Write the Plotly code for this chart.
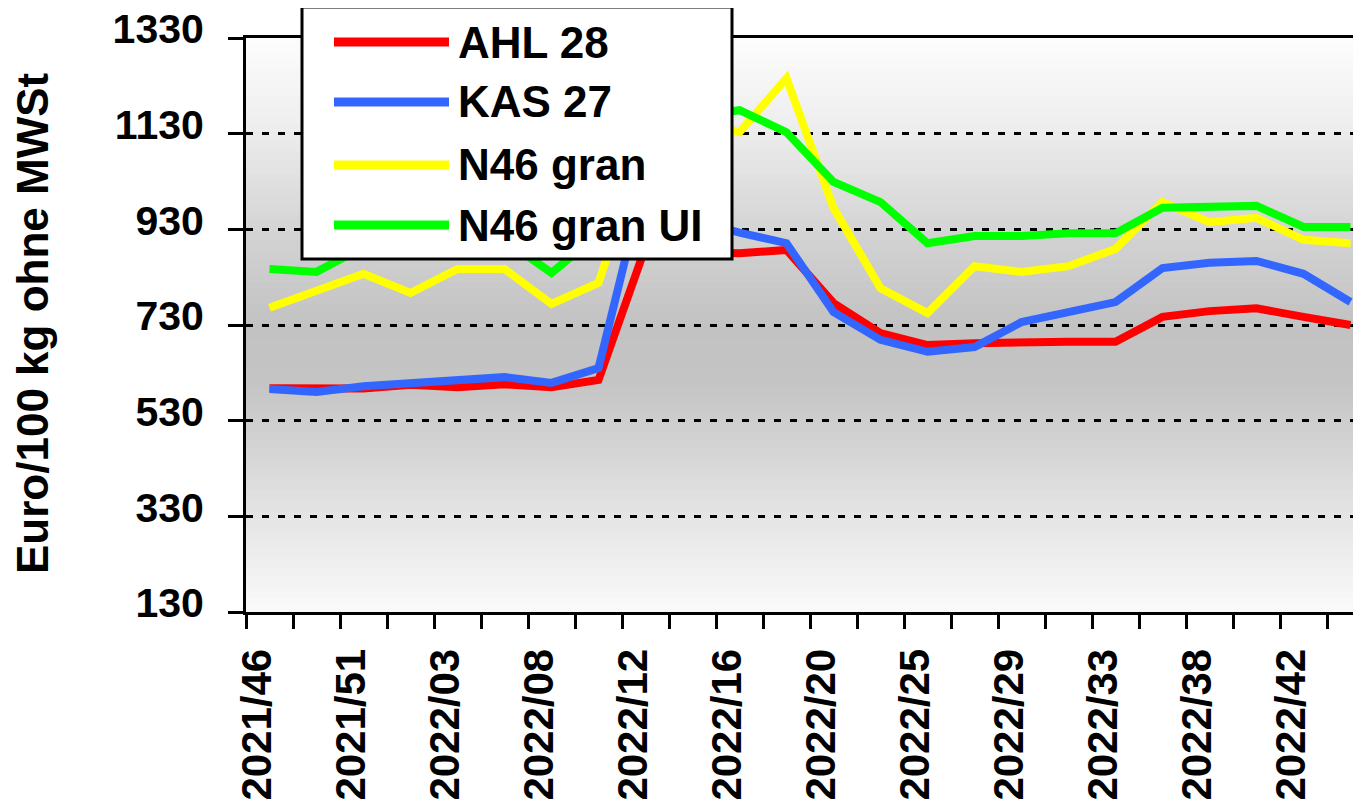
import plotly.graph_objects as go

# ---- data ----
weeks = ["2021/46", "2021/49", "2021/51", "2022/01", "2022/03", "2022/06",
         "2022/08", "2022/10", "2022/12", "2022/14", "2022/16", "2022/18",
         "2022/20", "2022/23", "2022/25", "2022/27", "2022/29", "2022/31",
         "2022/33", "2022/36", "2022/38", "2022/40", "2022/42", "2022/44"]
label_weeks = ["2021/46", "2021/51", "2022/03", "2022/08", "2022/12", "2022/16",
               "2022/20", "2022/25", "2022/29", "2022/33", "2022/38", "2022/42"]

ahl28 = [598, 596, 597, 605, 600, 606, 600, 615, 893, 882, 880, 887,
         776, 713, 688, 692, 695, 695, 695, 747, 759, 765, 747, 730]
kas27 = [596, 590, 602, 609, 615, 621, 609, 640, 1040, 950, 923, 901,
         757, 699, 674, 684, 736, 755, 778, 849, 860, 864, 837, 778]
n46 = [766, 801, 837, 797, 847, 847, 774, 818, 1112, 1160, 1133, 1246,
       975, 807, 755, 853, 841, 853, 889, 987, 945, 954, 908, 901]
n46ui = [847, 841, 893, 900, 905, 908, 839, 920, 1100, 1165, 1179, 1133,
         1029, 987, 901, 916, 916, 922, 922, 975, 979, 979, 935, 935]

series_names = ["AHL 28", "KAS 27", "N46 gran", "N46 gran UI"]
series_vals = [ahl28, kas27, n46, n46ui]
series_colors = ["#FF0000", "#3366FF", "#FFFF00", "#00FF00"]

y_ticks = [130, 330, 530, 730, 930, 1130, 1330]

# ---- geometry (pixels); page body has an 8px default margin ----
OFF = 8
W, H = 1361 - OFF, 812 - OFF
L, T, B = 246 - OFF, 38 - OFF, 200
PW = W - L
PH = H - T - B

def px_x(px):
    return (px - OFF - L) / PW

def px_y(py):
    return (H - B - (py - OFF)) / PH

FONT = "Liberation Sans, Arial, sans-serif"

fig = go.Figure()
x_idx = list(range(len(weeks)))
for name, vals, col in zip(series_names, series_vals, series_colors):
    fig.add_trace(go.Scatter(x=x_idx, y=vals, mode="lines", name=name,
                             line=dict(color=col, width=8),
                             customdata=weeks, hovertemplate="%{customdata}: %{y}<extra>" + name + "</extra>"))

# ---- background gradient (bands) ----
stops = [(0.0, 250), (0.2, 224), (0.4, 196), (0.5, 194), (0.65, 210), (0.85, 238), (1.0, 253)]

def grey(t):
    for (t0, c0), (t1, c1) in zip(stops[:-1], stops[1:]):
        if t0 <= t <= t1:
            return c0 + (c1 - c0) * (t - t0) / (t1 - t0)
    return stops[-1][1]

shapes = []
nb = 80
for i in range(nb):
    t0 = i / nb
    t1 = (i + 1) / nb
    g = int(round(grey((t0 + t1) / 2)))
    shapes.append(dict(type="rect", xref="paper", yref="paper", x0=0, x1=1,
                       y0=t0, y1=t1 + 0.002, fillcolor=f"rgb({g},{g},{g})",
                       line=dict(width=0), layer="below"))

# ---- custom legend ----
shapes.append(dict(type="rect", xref="paper", yref="paper",
                   x0=px_x(302), x1=px_x(732), y0=px_y(259), y1=px_y(7),
                   fillcolor="white", line=dict(color="black", width=3), layer="above"))
annotations = []
leg_y = [42, 102, 165, 225]
for name, col, ly in zip(series_names, series_colors, leg_y):
    shapes.append(dict(type="line", xref="paper", yref="paper",
                       x0=px_x(334), x1=px_x(449), y0=px_y(ly), y1=px_y(ly),
                       line=dict(color=col, width=9), layer="above"))
    annotations.append(dict(text=name, xref="paper", yref="paper",
                            x=px_x(456), y=px_y(ly), xanchor="left", yanchor="middle",
                            showarrow=False,
                            font=dict(family=FONT, size=44, color="black", weight="bold")))

# ---- y-axis title ----
annotations.append(dict(text="Euro/100 kg ohne MWSt", xref="paper", yref="paper",
                        x=px_x(32), y=px_y(323), xanchor="center", yanchor="middle",
                        textangle=-90, showarrow=False,
                        font=dict(family=FONT, size=44, color="black", weight="bold")))

fig.update_layout(
    width=W, height=H, autosize=False,
    margin=dict(l=L, r=0, t=T, b=B, pad=0),
    paper_bgcolor="white", plot_bgcolor="white",
    showlegend=False,
    shapes=shapes, annotations=annotations,
)

fig.update_xaxes(
    automargin=False,
    range=[-0.5, -0.5 + PW / 47.0],
    tickmode="array",
    tickvals=[weeks.index(w) for w in label_weeks],
    ticktext=label_weeks,
    ticks="", tickangle=-90,
    tickfont=dict(family=FONT, size=42, color="black", weight="bold"),
    ticklabelstandoff=17, ticklabelshift=-12,
    showgrid=False, zeroline=False,
    showline=True, linecolor="black", linewidth=3, mirror=True,
    minor=dict(tickmode="linear", tick0=-0.5, dtick=1, ticks="outside",
               ticklen=14, tickwidth=3, tickcolor="black", showgrid=False),
)
fig.update_yaxes(
    automargin=False,
    range=[130, 1330], tickmode="array", tickvals=y_ticks,
    ticktext=[str(v) for v in y_ticks],
    ticks="outside", ticklen=15, tickwidth=3, tickcolor="black",
    tickfont=dict(family=FONT, size=41, color="black", weight="bold"),
    ticklabelstandoff=16, ticklabelshift=-9, ticklabeloverflow="allow",
    showgrid=True, gridcolor="black", gridwidth=3, griddash="7px,9px",
    zeroline=False, showline=True, linecolor="black", linewidth=3,
)

fig.write_html("out.html")
